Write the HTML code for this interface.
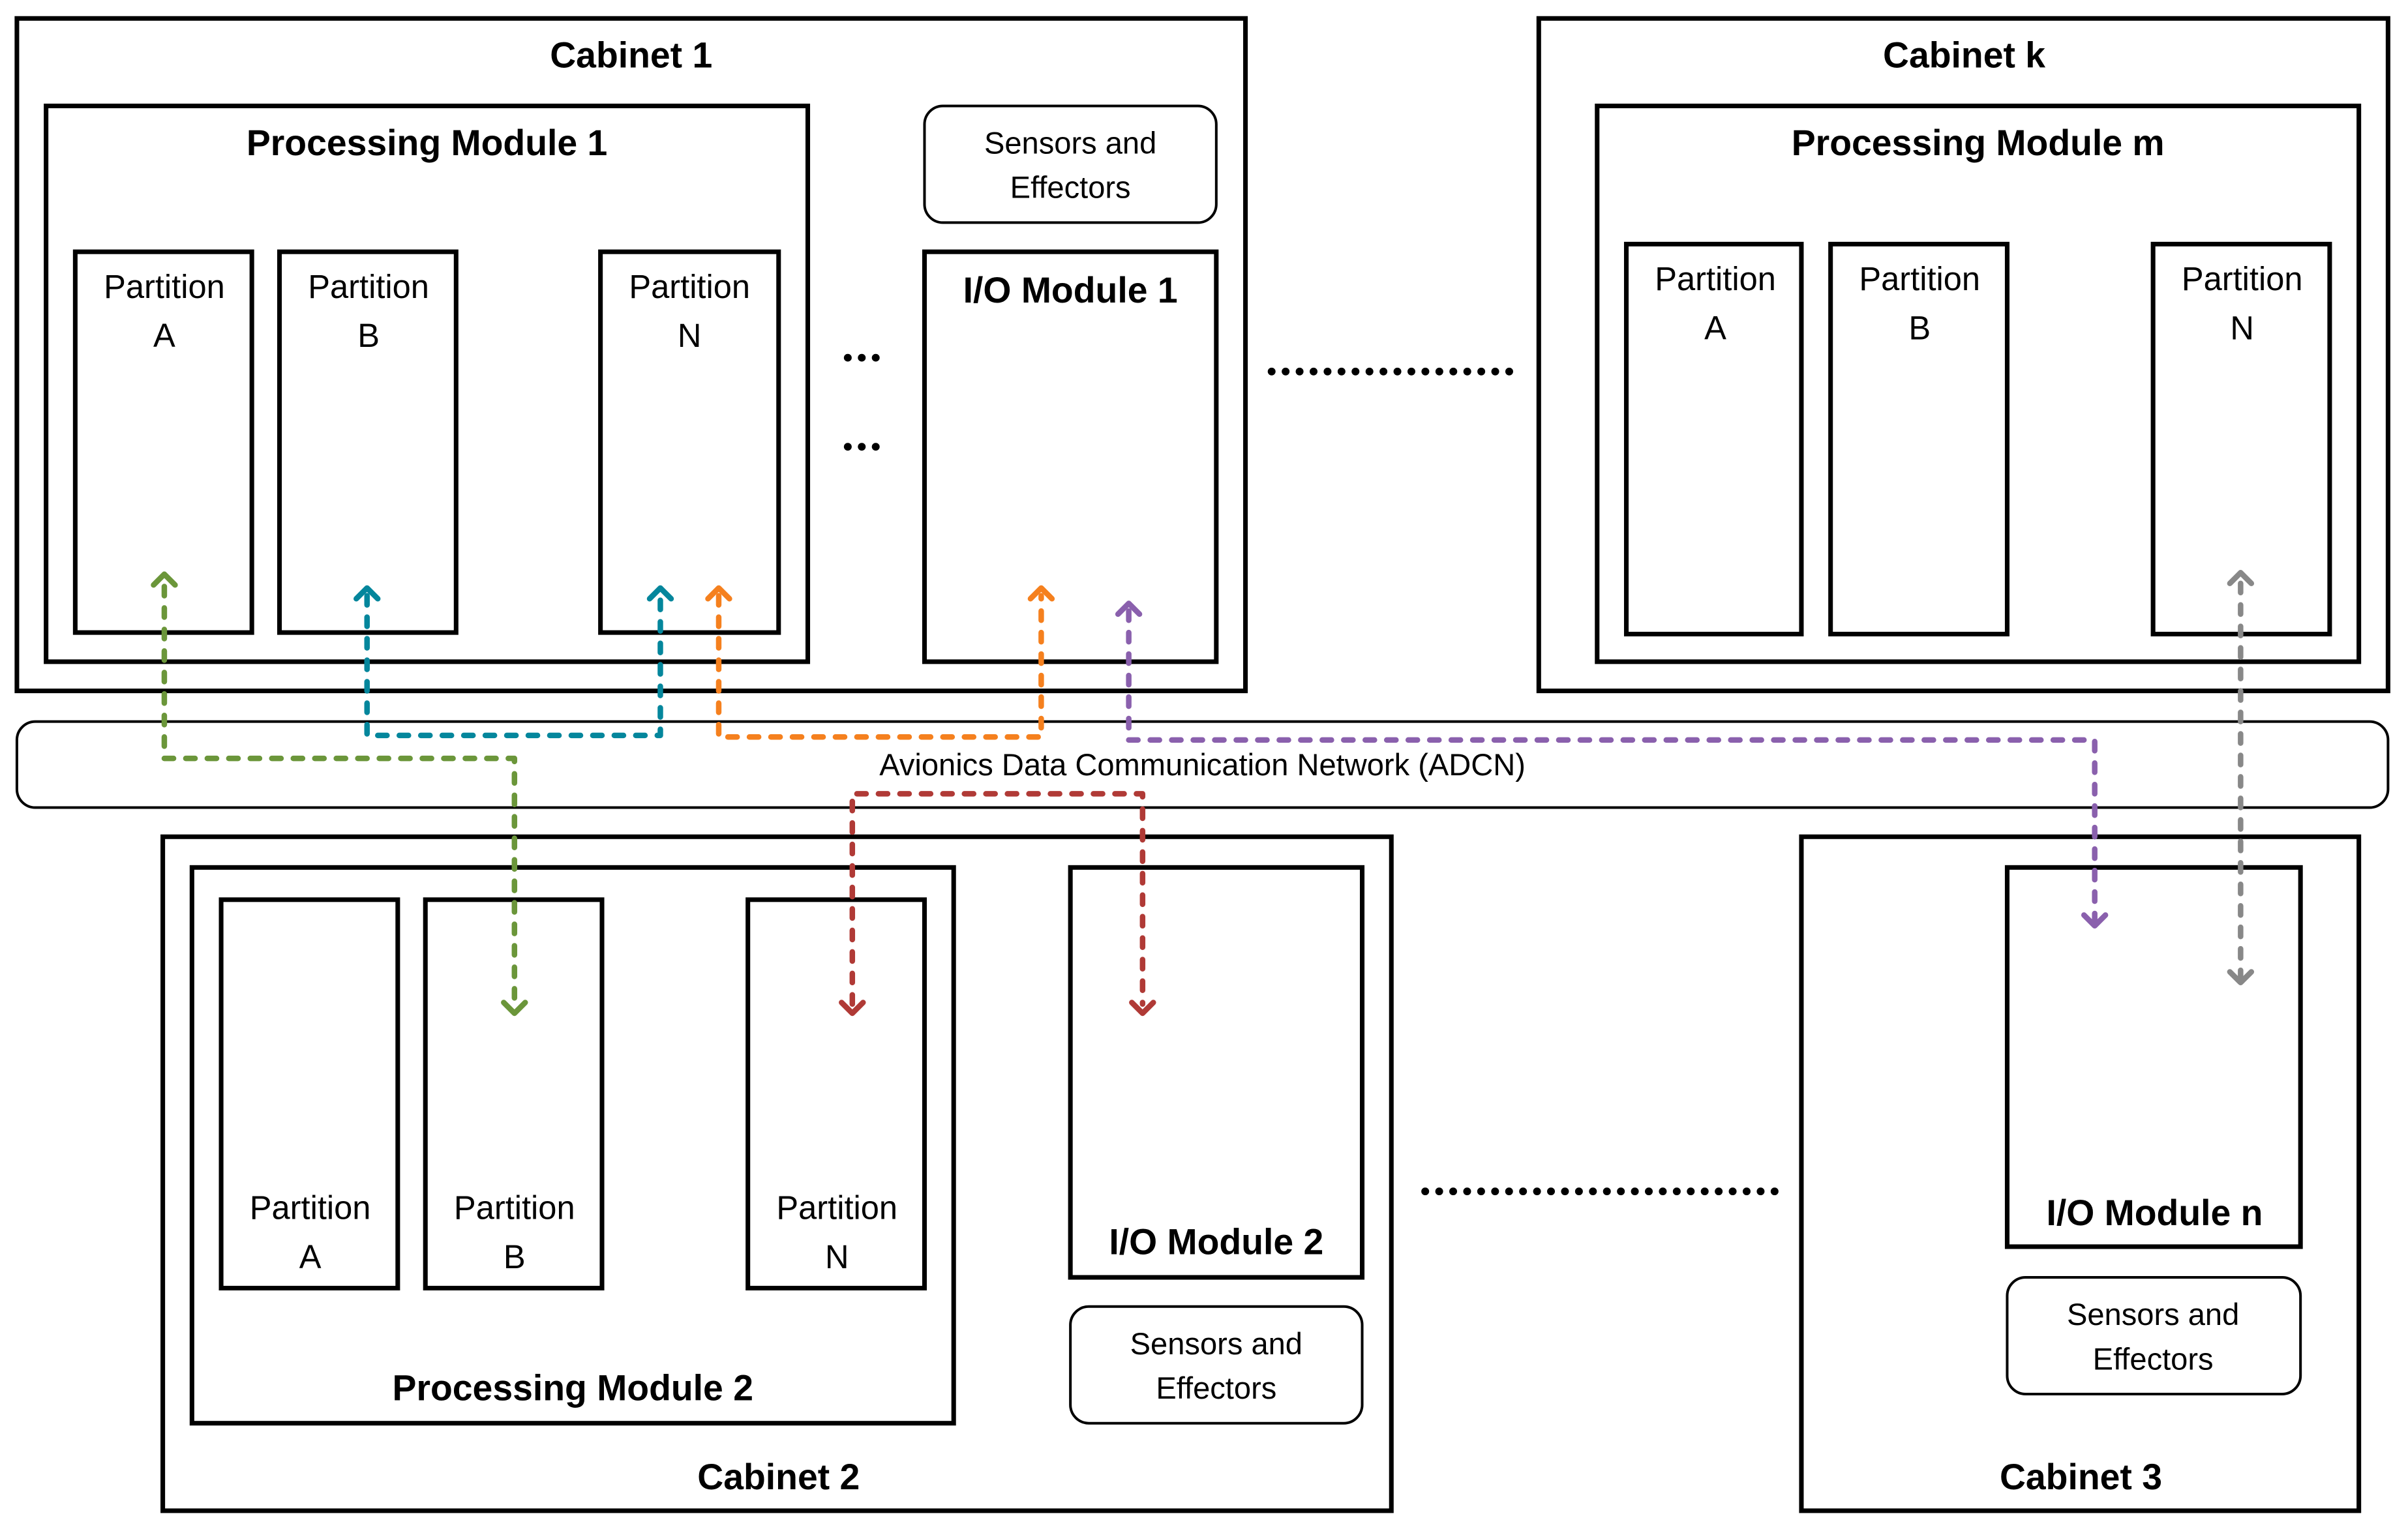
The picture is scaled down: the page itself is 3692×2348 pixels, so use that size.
<!DOCTYPE html>
<html><head><meta charset="utf-8"><style>html,body{margin:0;padding:0;background:#fff}svg{display:block}</style></head>
<body>
<svg width="3692" height="2348" viewBox="0 0 1568 997.2" preserveAspectRatio="none" xmlns="http://www.w3.org/2000/svg" font-family="'Liberation Sans', sans-serif">
<rect width="1568" height="998" fill="#fff"/>
<g fill="none" stroke="#000" stroke-width="3">
<rect x="11" y="12" width="800" height="438"/>
<rect x="30" y="69" width="496" height="362"/>
<rect x="49" y="164" width="115" height="248"/>
<rect x="182" y="164" width="115" height="248"/>
<rect x="391" y="164" width="116" height="248"/>
<rect x="602" y="164" width="190" height="267"/>
<rect x="1002" y="12" width="553" height="438"/>
<rect x="1040" y="69" width="496" height="362"/>
<rect x="1059" y="159" width="114" height="254"/>
<rect x="1192" y="159" width="115" height="254"/>
<rect x="1402" y="159" width="115" height="254"/>
<rect x="106" y="545" width="800" height="439"/>
<rect x="125" y="565" width="496" height="362"/>
<rect x="144" y="586" width="115" height="253"/>
<rect x="277" y="586" width="115" height="253"/>
<rect x="487" y="586" width="115" height="253"/>
<rect x="697" y="565" width="190" height="267"/>
<rect x="1173" y="545" width="363" height="439"/>
<rect x="1307" y="565" width="191" height="247"/>
</g>
<g fill="none" stroke="#000" stroke-width="1.7">
<rect x="602" y="69" width="190" height="76" rx="12"/>
<rect x="11" y="470" width="1544" height="56" rx="12"/>
<rect x="697" y="851" width="190" height="76" rx="12"/>
<rect x="1307" y="832" width="191" height="76" rx="12"/>
</g>
<g fill="#000" font-weight="bold" font-size="23.5" text-anchor="middle">
<text x="411" y="44">Cabinet 1</text>
<text x="278" y="101">Processing Module 1</text>
<text x="697" y="197">I/O Module 1</text>
<text x="1279" y="44">Cabinet k</text>
<text x="1288" y="101">Processing Module m</text>
<text x="373" y="912">Processing Module 2</text>
<text x="792" y="817">I/O Module 2</text>
<text x="507" y="970">Cabinet 2</text>
<text x="1403" y="798">I/O Module n</text>
<text x="1355" y="970">Cabinet 3</text>
</g>
<g fill="#000" font-size="21.5" text-anchor="middle">
<text x="107" y="194">Partition</text><text x="107" y="226">A</text>
<text x="240" y="194">Partition</text><text x="240" y="226">B</text>
<text x="449" y="194">Partition</text><text x="449" y="226">N</text>
<text x="1117" y="189">Partition</text><text x="1117" y="221">A</text>
<text x="1250" y="189">Partition</text><text x="1250" y="221">B</text>
<text x="1460" y="189">Partition</text><text x="1460" y="221">N</text>
<text x="202" y="794">Partition</text><text x="202" y="826">A</text>
<text x="335" y="794">Partition</text><text x="335" y="826">B</text>
<text x="545" y="794">Partition</text><text x="545" y="826">N</text>
</g>
<g fill="#000" font-size="20" text-anchor="middle">
<text x="697" y="100">Sensors and</text><text x="697" y="129">Effectors</text>
<text x="792" y="882">Sensors and</text><text x="792" y="911">Effectors</text>
<text x="1402" y="863">Sensors and</text><text x="1402" y="892">Effectors</text>
<text x="783" y="505">Avionics Data Communication Network (ADCN)</text>
</g>
<g stroke="#000" stroke-width="5" stroke-dasharray="0.1 9" stroke-linecap="round" fill="none">
<line x1="552" y1="233" x2="578" y2="233"/>
<line x1="552" y1="291" x2="578" y2="291"/>
<line x1="828" y1="242" x2="988" y2="242"/>
<line x1="928" y1="776" x2="1157" y2="776"/>
</g>
<g fill="none" stroke-width="3.6" stroke-linecap="round" stroke-linejoin="round">
<g stroke="#6b963a"><path d="M107 382 V494 H335 V656" stroke-dasharray="6 8"/><path d="M100 381 L107 374 L114 381 M328 653 L335 660 L342 653"/></g>
<g stroke="#04869c"><path d="M239 388 V479 H430 V388" stroke-dasharray="6 8"/><path d="M232 390 L239 383 L246 390 M423 390 L430 383 L437 390"/></g>
<g stroke="#f5801e"><path d="M468 388 V480 H678 V388" stroke-dasharray="6 8"/><path d="M461 390 L468 383 L475 390 M671 390 L678 383 L685 390"/></g>
<g stroke="#8a60ad"><path d="M735 398 V482 H1364 V599" stroke-dasharray="6 8"/><path d="M728 400 L735 393 L742 400 M1357 596 L1364 603 L1371 596"/></g>
<g stroke="#b03a36"><path d="M555 654 V517 H744 V654" stroke-dasharray="6 8"/><path d="M548 653 L555 660 L562 653 M737 653 L744 660 L751 653"/></g>
<g stroke="#888"><path d="M1459 380 V636" stroke-dasharray="6 8"/><path d="M1452 380 L1459 373 L1466 380 M1452 633 L1459 640 L1466 633"/></g>
</g>
</svg>
</body></html>
